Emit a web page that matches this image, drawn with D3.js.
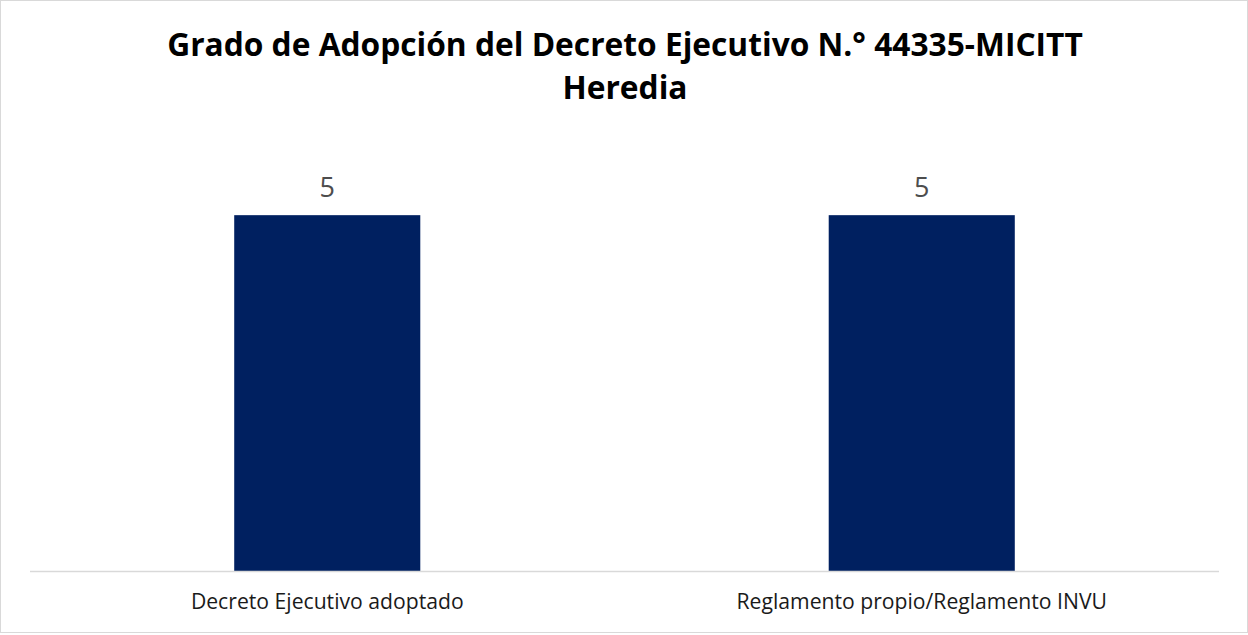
<!DOCTYPE html>
<html>
<head>
<meta charset="utf-8">
<script src="https://cdn.jsdelivr.net/npm/d3@7"></script>
<style>
  body { margin: 0; background: #fff; }
  text { font-family: "Open Sans", "Noto Sans", sans-serif; }
</style>
</head>
<body>
<div id="chart-area"></div>
<script>

// data
var categories = ["Decreto Ejecutivo adoptado", "Reglamento propio/Reglamento INVU"];
var values = [5, 5];
var titleLines = ["Grado de Adopción del Decreto Ejecutivo N.° 44335-MICITT", "Heredia"];

var W = 1248, H = 635;
var plotLeft = 30, plotRight = 1219, plotBase = 571, plotTop = 144;

var svg = d3.select("#chart-area").append("svg")
    .attr("width", W)
    .attr("height", H);

// chart border
svg.append("rect")
    .attr("x", 0.5).attr("y", 0.5)
    .attr("width", W - 1).attr("height", H - 3)
    .attr("fill", "#fff")
    .attr("stroke", "#d9d9d9");

// scales
var x = d3.scaleBand()
    .domain(categories)
    .range([plotLeft, plotRight]);

var y = d3.scaleLinear()
    .domain([0, 6])
    .range([plotBase, plotTop]);

var bw = x.bandwidth() * 0.313;

// bars
svg.selectAll("rect.bar")
    .data(values)
    .enter()
    .append("rect")
    .attr("class", "bar")
    .attr("x", (d, i) => x(categories[i]) + x.bandwidth() / 2 - bw / 2)
    .attr("y", (d) => y(d))
    .attr("width", bw)
    .attr("height", (d) => y(0) - y(d))
    .attr("fill", "#002060");

// value labels
svg.selectAll("text.val")
    .data(values)
    .enter()
    .append("text")
    .attr("class", "val")
    .attr("x", (d, i) => x(categories[i]) + x.bandwidth() / 2)
    .attr("y", (d) => y(d) - 18)
    .attr("text-anchor", "middle")
    .attr("font-size", 27)
    .attr("fill", "#4d4d4d")
    .text((d) => d);

// baseline
svg.append("line")
    .attr("x1", plotLeft).attr("x2", plotRight)
    .attr("y1", plotBase + 0.5).attr("y2", plotBase + 0.5)
    .attr("stroke", "#d9d9d9")
    .attr("stroke-width", 1.5);

// category labels
var cats = svg.selectAll("text.cat")
    .data(categories)
    .enter()
    .append("text")
    .attr("class", "cat")
    .attr("x", (d) => x(d) + x.bandwidth() / 2)
    .attr("y", 609)
    .attr("text-anchor", "middle")
    .attr("font-size", 20)
    .attr("fill", "#1a1a1a")
    .text((d) => d);

// fit label size to the original width of the first label
var cfs = 20 * 273 / cats.nodes()[0].getComputedTextLength();
cats.attr("font-size", cfs);

// title, sized so the first line spans like the original
var t1 = svg.append("text")
    .attr("x", 625).attr("y", 56)
    .attr("text-anchor", "middle")
    .attr("font-weight", "bold")
    .attr("font-size", 28)
    .attr("fill", "#000")
    .text(titleLines[0]);

var fs = 28 * 916 / t1.node().getComputedTextLength();
t1.attr("font-size", fs);

svg.append("text")
    .attr("x", 625).attr("y", 99)
    .attr("text-anchor", "middle")
    .attr("font-weight", "bold")
    .attr("font-size", fs)
    .attr("fill", "#000")
    .text(titleLines[1]);

</script>
</body>
</html>
